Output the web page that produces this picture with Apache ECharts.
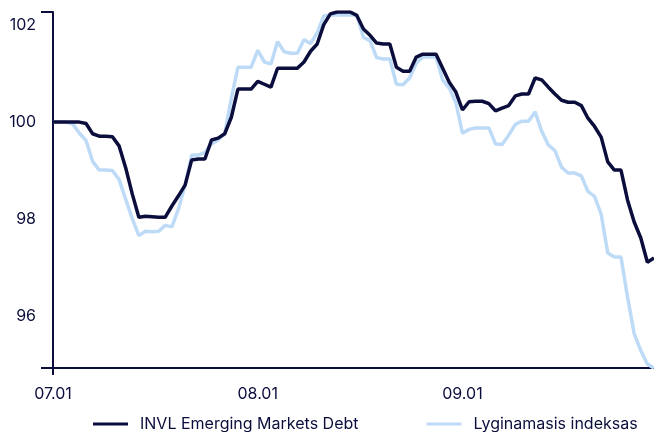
<!DOCTYPE html>
<html>
<head>
<meta charset="utf-8">
<script src="https://cdn.jsdelivr.net/npm/echarts@6/dist/echarts.min.js"></script>
<style>
html,body{margin:0;padding:0;background:#fff;}
#c{width:654px;height:432px;}
</style>
</head>
<body>
<div id="c"></div>
<script>
// Daily dates 07.01 – 09.30
const dates = [];
(function(){
  const months = [[7,31],[8,31],[9,30]];
  months.forEach(function(m){
    for (let d = 1; d <= m[1]; d++) {
      dates.push(String(m[0]).padStart(2,'0') + '.' + String(d).padStart(2,'0'));
    }
  });
})();

const monthLabels = ['07.01', '08.01', '09.01'];
const yTickValues = [96, 98, 100, 102];

const fundName = 'INVL Emerging Markets Debt';
const indexName = 'Lyginamasis indeksas';

const fundValues = [
  100.00,100.00,100.00,100.00,100.00,99.97,99.76,99.71,99.71,99.70,
  99.51,99.06,98.52,98.04,98.06,98.05,98.04,98.04,98.27,98.48,
  98.70,99.22,99.24,99.24,99.63,99.67,99.76,100.10,100.68,100.68,
  100.68,100.84,100.78,100.72,101.11,101.11,101.11,101.11,101.24,101.46,
  101.61,102.01,102.23,102.27,102.27,102.27,102.20,101.92,101.79,101.63,
  101.61,101.61,101.13,101.05,101.05,101.34,101.40,101.40,101.40,101.11,
  100.82,100.62,100.25,100.42,100.43,100.43,100.38,100.23,100.29,100.34,
  100.54,100.58,100.58,100.91,100.87,100.72,100.58,100.45,100.41,100.41,
  100.34,100.08,99.91,99.69,99.18,99.01,99.01,98.39,97.94,97.61,
  97.11,97.20
];

const indexValues = [
  100.00,100.00,100.00,99.96,99.77,99.62,99.19,99.01,99.01,99.00,
  98.82,98.41,98.01,97.66,97.75,97.74,97.75,97.87,97.84,98.21,
  98.70,99.32,99.32,99.37,99.55,99.63,99.76,100.49,101.13,101.13,
  101.13,101.48,101.24,101.20,101.66,101.45,101.42,101.42,101.70,101.62,
  101.84,102.19,102.21,102.21,102.21,102.21,102.21,101.75,101.68,101.33,
  101.30,101.30,100.78,100.77,100.91,101.22,101.34,101.34,101.34,100.87,
  100.70,100.40,99.77,99.85,99.88,99.88,99.88,99.55,99.54,99.73,
  99.95,100.02,100.02,100.21,99.81,99.53,99.41,99.07,98.95,98.95,
  98.89,98.57,98.47,98.10,97.30,97.22,97.22,96.39,95.64,95.29,
  95.01,94.93
];

const navy = '#0b0e3c';
const lightBlue = '#bddbf6';
const fontFam = 'Inter, "Noto Sans", sans-serif';

const allVals = fundValues.concat(indexValues);
const yMin = Math.min.apply(null, allVals);
const yMax = Math.max.apply(null, allVals);

const chart = echarts.init(document.getElementById('c'), null, {renderer: 'canvas'});
chart.setOption({
  animation: false,
  backgroundColor: '#ffffff',
  grid: {left: 53, right: 0, top: 12, bottom: 64, containLabel: false},
  xAxis: {
    type: 'category',
    data: dates,
    boundaryGap: false,
    axisLine: {show: true, lineStyle: {color: navy, width: 2}},
    axisTick: {
      show: true, length: 7, inside: false,
      interval: function(idx){ return idx === 0; },
      lineStyle: {color: navy, width: 2}
    },
    axisLabel: {
      show: true,
      interval: function(idx, val){ return monthLabels.indexOf(val) >= 0; },
      color: navy, fontFamily: fontFam, fontSize: 16, margin: 18
    },
    splitLine: {show: false}
  },
  yAxis: {
    type: 'value',
    min: yMin, max: yMax,
    axisLine: {show: true, lineStyle: {color: navy, width: 2}},
    axisTick: {show: true, customValues: [yMin, yMax], length: 12, lineStyle: {color: navy, width: 2}},
    axisLabel: {show: true, customValues: yTickValues, color: navy, fontFamily: fontFam, fontSize: 16, margin: 17},
    splitLine: {show: false}
  },
  legend: {
    left: 88, top: 411,
    itemWidth: 35, itemHeight: 3, itemGap: 68,
    icon: 'rect',
    data: [fundName, indexName],
    textStyle: {color: navy, fontFamily: fontFam, fontSize: 16, padding: [0,0,0,7]}
  },
  series: [
    {
      name: indexName, type: 'line', data: indexValues,
      symbol: 'none', smooth: false, z: 2,
      lineStyle: {color: lightBlue, width: 3.5},
      itemStyle: {color: lightBlue}
    },
    {
      name: fundName, type: 'line', data: fundValues,
      symbol: 'none', smooth: false, z: 3,
      lineStyle: {color: navy, width: 3.5},
      itemStyle: {color: navy}
    }
  ]
});
</script>
</body>
</html>
